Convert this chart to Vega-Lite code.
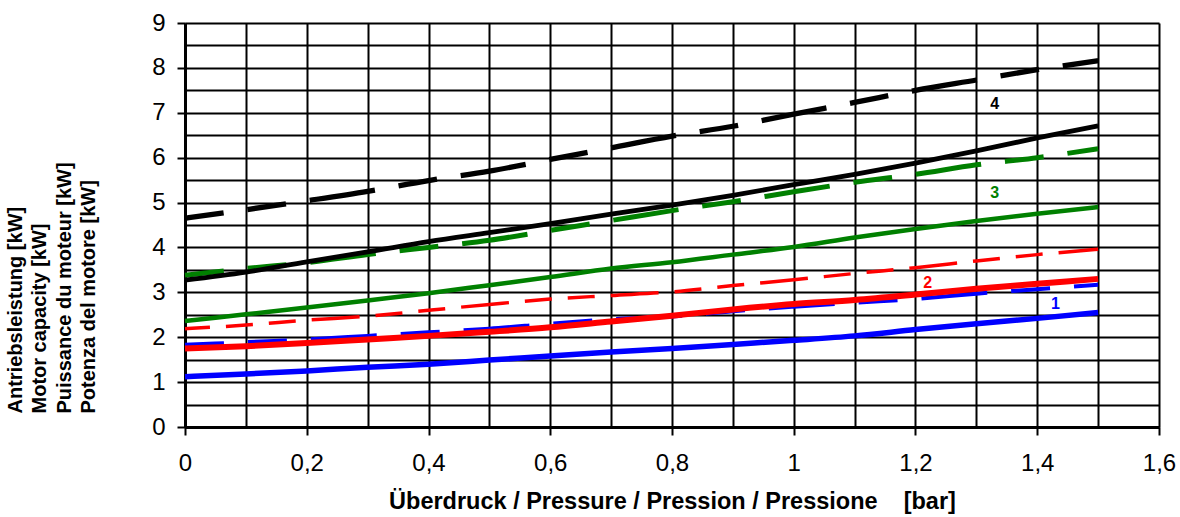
{
  "$schema": "https://vega.github.io/schema/vega-lite/v6.json",
  "width": 974,
  "height": 404,
  "autosize": "none",
  "padding": {"left": 185, "top": 23, "right": 21, "bottom": 90},
  "background": "white",
  "config": {
    "view": {"stroke": null},
    "font": "Liberation Sans",
    "axis": {"labelFont": "Liberation Sans", "titleFont": "Liberation Sans"}
  },
  "datasets": {
    "curves": [
      {"c":"1","t":"s","p":0,"kw":1.12},{"c":"1","t":"s","p":0.1,"kw":1.18},{"c":"1","t":"s","p":0.2,"kw":1.25},{"c":"1","t":"s","p":0.3,"kw":1.33},{"c":"1","t":"s","p":0.4,"kw":1.40},{"c":"1","t":"s","p":0.5,"kw":1.49},{"c":"1","t":"s","p":0.6,"kw":1.58},{"c":"1","t":"s","p":0.7,"kw":1.67},{"c":"1","t":"s","p":0.8,"kw":1.75},{"c":"1","t":"s","p":0.9,"kw":1.84},{"c":"1","t":"s","p":1.0,"kw":1.93},{"c":"1","t":"s","p":1.1,"kw":2.03},{"c":"1","t":"s","p":1.2,"kw":2.17},{"c":"1","t":"s","p":1.3,"kw":2.30},{"c":"1","t":"s","p":1.4,"kw":2.42},{"c":"1","t":"s","p":1.5,"kw":2.55},
      {"c":"1","t":"d","p":0,"kw":1.83},{"c":"1","t":"d","p":0.1,"kw":1.89},{"c":"1","t":"d","p":0.2,"kw":1.95},{"c":"1","t":"d","p":0.3,"kw":2.03},{"c":"1","t":"d","p":0.4,"kw":2.11},{"c":"1","t":"d","p":0.5,"kw":2.19},{"c":"1","t":"d","p":0.6,"kw":2.30},{"c":"1","t":"d","p":0.7,"kw":2.40},{"c":"1","t":"d","p":0.8,"kw":2.46},{"c":"1","t":"d","p":0.9,"kw":2.58},{"c":"1","t":"d","p":1.0,"kw":2.68},{"c":"1","t":"d","p":1.1,"kw":2.77},{"c":"1","t":"d","p":1.2,"kw":2.85},{"c":"1","t":"d","p":1.3,"kw":2.97},{"c":"1","t":"d","p":1.4,"kw":3.07},{"c":"1","t":"d","p":1.5,"kw":3.17},
      {"c":"2","t":"s","p":0,"kw":1.75},{"c":"2","t":"s","p":0.1,"kw":1.80},{"c":"2","t":"s","p":0.2,"kw":1.87},{"c":"2","t":"s","p":0.3,"kw":1.95},{"c":"2","t":"s","p":0.4,"kw":2.03},{"c":"2","t":"s","p":0.5,"kw":2.12},{"c":"2","t":"s","p":0.6,"kw":2.22},{"c":"2","t":"s","p":0.7,"kw":2.35},{"c":"2","t":"s","p":0.8,"kw":2.48},{"c":"2","t":"s","p":0.9,"kw":2.62},{"c":"2","t":"s","p":1.0,"kw":2.74},{"c":"2","t":"s","p":1.1,"kw":2.83},{"c":"2","t":"s","p":1.2,"kw":2.95},{"c":"2","t":"s","p":1.3,"kw":3.08},{"c":"2","t":"s","p":1.4,"kw":3.19},{"c":"2","t":"s","p":1.5,"kw":3.30},
      {"c":"2","t":"d","p":0,"kw":2.19},{"c":"2","t":"d","p":0.1,"kw":2.27},{"c":"2","t":"d","p":0.2,"kw":2.38},{"c":"2","t":"d","p":0.3,"kw":2.47},{"c":"2","t":"d","p":0.4,"kw":2.60},{"c":"2","t":"d","p":0.5,"kw":2.73},{"c":"2","t":"d","p":0.6,"kw":2.85},{"c":"2","t":"d","p":0.7,"kw":2.93},{"c":"2","t":"d","p":0.8,"kw":3.01},{"c":"2","t":"d","p":0.9,"kw":3.15},{"c":"2","t":"d","p":1.0,"kw":3.28},{"c":"2","t":"d","p":1.1,"kw":3.42},{"c":"2","t":"d","p":1.2,"kw":3.55},{"c":"2","t":"d","p":1.3,"kw":3.70},{"c":"2","t":"d","p":1.4,"kw":3.84},{"c":"2","t":"d","p":1.5,"kw":3.96},
      {"c":"3","t":"s","p":0,"kw":2.36},{"c":"3","t":"s","p":0.1,"kw":2.51},{"c":"3","t":"s","p":0.2,"kw":2.66},{"c":"3","t":"s","p":0.3,"kw":2.82},{"c":"3","t":"s","p":0.4,"kw":2.98},{"c":"3","t":"s","p":0.5,"kw":3.16},{"c":"3","t":"s","p":0.6,"kw":3.34},{"c":"3","t":"s","p":0.7,"kw":3.53},{"c":"3","t":"s","p":0.8,"kw":3.67},{"c":"3","t":"s","p":0.9,"kw":3.84},{"c":"3","t":"s","p":1.0,"kw":4.01},{"c":"3","t":"s","p":1.1,"kw":4.22},{"c":"3","t":"s","p":1.2,"kw":4.41},{"c":"3","t":"s","p":1.3,"kw":4.59},{"c":"3","t":"s","p":1.4,"kw":4.75},{"c":"3","t":"s","p":1.5,"kw":4.90},
      {"c":"3","t":"d","p":0,"kw":3.38},{"c":"3","t":"d","p":0.1,"kw":3.53},{"c":"3","t":"d","p":0.2,"kw":3.66},{"c":"3","t":"d","p":0.3,"kw":3.84},{"c":"3","t":"d","p":0.4,"kw":4.00},{"c":"3","t":"d","p":0.5,"kw":4.16},{"c":"3","t":"d","p":0.6,"kw":4.38},{"c":"3","t":"d","p":0.7,"kw":4.60},{"c":"3","t":"d","p":0.8,"kw":4.82},{"c":"3","t":"d","p":0.9,"kw":5.02},{"c":"3","t":"d","p":1.0,"kw":5.24},{"c":"3","t":"d","p":1.1,"kw":5.45},{"c":"3","t":"d","p":1.2,"kw":5.63},{"c":"3","t":"d","p":1.3,"kw":5.84},{"c":"3","t":"d","p":1.4,"kw":6.00},{"c":"3","t":"d","p":1.5,"kw":6.20},
      {"c":"4","t":"s","p":0,"kw":3.27},{"c":"4","t":"s","p":0.1,"kw":3.45},{"c":"4","t":"s","p":0.2,"kw":3.68},{"c":"4","t":"s","p":0.3,"kw":3.90},{"c":"4","t":"s","p":0.4,"kw":4.13},{"c":"4","t":"s","p":0.5,"kw":4.33},{"c":"4","t":"s","p":0.6,"kw":4.53},{"c":"4","t":"s","p":0.7,"kw":4.74},{"c":"4","t":"s","p":0.8,"kw":4.94},{"c":"4","t":"s","p":0.9,"kw":5.16},{"c":"4","t":"s","p":1.0,"kw":5.40},{"c":"4","t":"s","p":1.1,"kw":5.63},{"c":"4","t":"s","p":1.2,"kw":5.88},{"c":"4","t":"s","p":1.3,"kw":6.15},{"c":"4","t":"s","p":1.4,"kw":6.44},{"c":"4","t":"s","p":1.5,"kw":6.71},
      {"c":"4","t":"d","p":0,"kw":4.65},{"c":"4","t":"d","p":0.1,"kw":4.84},{"c":"4","t":"d","p":0.2,"kw":5.04},{"c":"4","t":"d","p":0.3,"kw":5.25},{"c":"4","t":"d","p":0.4,"kw":5.49},{"c":"4","t":"d","p":0.5,"kw":5.70},{"c":"4","t":"d","p":0.6,"kw":5.96},{"c":"4","t":"d","p":0.7,"kw":6.22},{"c":"4","t":"d","p":0.8,"kw":6.48},{"c":"4","t":"d","p":0.9,"kw":6.70},{"c":"4","t":"d","p":1.0,"kw":6.97},{"c":"4","t":"d","p":1.1,"kw":7.23},{"c":"4","t":"d","p":1.2,"kw":7.50},{"c":"4","t":"d","p":1.3,"kw":7.73},{"c":"4","t":"d","p":1.4,"kw":7.96},{"c":"4","t":"d","p":1.5,"kw":8.16}
    ],
    "labels": [
      {"c":"1","p":1.43,"kw":2.73},
      {"c":"2","p":1.22,"kw":3.21},
      {"c":"3","p":1.33,"kw":5.21},
      {"c":"4","p":1.33,"kw":7.19}
    ]
  },
  "data": {"name": "curves"},
  "encoding": {
    "x": {
      "field": "p", "type": "quantitative",
      "scale": {"domain": [0, 1.6], "nice": false, "zero": false},
      "axis": {
        "values": [0,0.1,0.2,0.3,0.4,0.5,0.6,0.7,0.8,0.9,1.0,1.1,1.2,1.3,1.4,1.5,1.6],
        "grid": true, "gridColor": "#000000", "gridWidth": 2, "gridOpacity": 1,
        "domain": true, "domainColor": "#000000", "domainWidth": 3,
        "ticks": true, "tickColor": "#000000", "tickWidth": 2, "tickSize": 8,
        "tickOpacity": {"condition": {"test": "round(datum.value*10) % 2 == 1", "value": 0}, "value": 1},
        "labelExpr": "round(datum.value*10) % 2 == 1 ? '' : replace(format(datum.value, '.1~f'), '.', ',')",
        "labelFontSize": 24, "labelColor": "#000000", "labelPadding": 16,
        "labelOverlap": false, "labelFlush": false,
        "title": "Überdruck / Pressure / Pression / Pressione\u00a0\u00a0\u00a0\u00a0[bar]",
        "titleFontSize": 23.5, "titleFontWeight": "bold", "titleColor": "#000000",
        "titleBaseline": "alphabetic", "titleY": 81
      }
    },
    "y": {
      "field": "kw", "type": "quantitative",
      "scale": {"domain": [0, 9], "nice": false},
      "axis": {
        "values": [0,0.5,1,1.5,2,2.5,3,3.5,4,4.5,5,5.5,6,6.5,7,7.5,8,8.5,9],
        "grid": true, "gridColor": "#000000", "gridWidth": 2, "gridOpacity": 1,
        "domain": true, "domainColor": "#000000", "domainWidth": 3,
        "ticks": true, "tickColor": "#000000", "tickWidth": 2, "tickSize": 8,
        "tickOpacity": {"condition": {"test": "datum.value % 1 != 0", "value": 0}, "value": 1},
        "labelExpr": "datum.value % 1 != 0 ? '' : datum.value + ''",
        "labelFontSize": 24, "labelColor": "#000000", "labelPadding": 12,
        "labelOverlap": false, "labelFlush": false,
        "title": ["Antriebsleistung [kW]", "Motor capacity [kW]", "Puissance du moteur [kW]", "Potenza del motore [kW]"],
        "titleFontSize": 20, "titleFontWeight": "bold", "titleColor": "#000000",
        "titleAngle": -90, "titleAlign": "left", "titleBaseline": "top",
        "titleX": -180, "titleY": 390, "titleLineHeight": 24.5
      }
    }
  },
  "layer": [
    {"transform": [{"filter": "datum.c == '1' && datum.t == 'd'"}],
     "mark": {"type": "line", "color": "#0000ff", "strokeWidth": 4, "strokeDash": [66, 24, 39, 24], "strokeDashOffset": 27, "strokeCap": "butt", "interpolate": "monotone"}},
    {"transform": [{"filter": "datum.c == '1' && datum.t == 's'"}],
     "mark": {"type": "line", "color": "#0000ff", "strokeWidth": 5.5, "strokeCap": "butt", "interpolate": "monotone"}},
    {"transform": [{"filter": "datum.c == '2' && datum.t == 'd'"}],
     "mark": {"type": "line", "color": "#ff0000", "strokeWidth": 3.5, "strokeDash": [48, 16, 27, 16, 27, 16], "strokeDashOffset": 23, "strokeCap": "butt", "interpolate": "monotone"}},
    {"transform": [{"filter": "datum.c == '2' && datum.t == 's'"}],
     "mark": {"type": "line", "color": "#ff0000", "strokeWidth": 6, "strokeCap": "butt", "interpolate": "monotone"}},
    {"transform": [{"filter": "datum.c == '3' && datum.t == 'd'"}],
     "mark": {"type": "line", "color": "#008000", "strokeWidth": 5, "strokeDash": [66, 24, 39, 24], "strokeDashOffset": 27, "strokeCap": "butt", "interpolate": "monotone"}},
    {"transform": [{"filter": "datum.c == '3' && datum.t == 's'"}],
     "mark": {"type": "line", "color": "#008000", "strokeWidth": 4.5, "strokeCap": "butt", "interpolate": "monotone"}},
    {"transform": [{"filter": "datum.c == '4' && datum.t == 's'"}],
     "mark": {"type": "line", "color": "#000000", "strokeWidth": 4.8, "strokeCap": "butt", "interpolate": "monotone"}},
    {"transform": [{"filter": "datum.c == '4' && datum.t == 'd'"}],
     "mark": {"type": "line", "color": "#000000", "strokeWidth": 5.3, "strokeDash": [66, 24, 39, 24], "strokeDashOffset": 27, "strokeCap": "butt", "interpolate": "monotone"}},
    {"data": {"name": "labels"},
     "mark": {"type": "text", "fontSize": 16, "fontWeight": "bold", "font": "Liberation Sans", "align": "center", "baseline": "middle"},
     "encoding": {
       "text": {"field": "c"},
       "color": {"field": "c", "type": "nominal", "legend": null,
                 "scale": {"domain": ["1","2","3","4"], "range": ["#0000ff","#ff0000","#008000","#000000"]}}
     }}
  ]
}
